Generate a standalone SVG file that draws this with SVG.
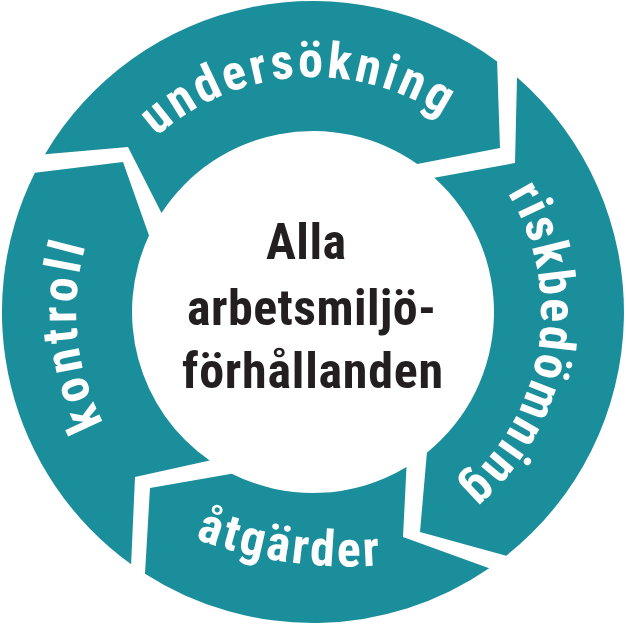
<svg xmlns="http://www.w3.org/2000/svg" xmlns:xlink="http://www.w3.org/1999/xlink" width="626" height="625" viewBox="0 0 626 625">
  <style>
    .seg { fill: #1a8e9b; }
    .lbl { fill: #ffffff; font-family: "Roboto Condensed", "Open Sans", "Liberation Sans", sans-serif; font-stretch: condensed; font-weight: bold; font-size: 50px; }
    .ctr { fill: #231f20; font-family: "Roboto Condensed", "Open Sans", "Liberation Sans", sans-serif; font-stretch: condensed; font-weight: bold; font-size: 50px; text-anchor: middle; }
  </style>
  <defs>
    <path id="p-unders" d="M79.2,288.3 A235,235 0 0 1 540.8,254.4"/>
    <path id="p-kontroll" d="M296.1,548.4 A237,237 0 0 1 248.1,84.1"/>
    <path id="p-risk" d="M388.4,96.8 A228,228 0 0 1 315.8,540.0"/>
    <path id="p-atg" d="M150,519.6 A450,450 0 0 0 450,555.2"/>
  </defs>
  <rect width="626" height="625" fill="#ffffff"/>

  <g id="node-kontroll">
    <path class="seg" d="M131.1,564.3 L135,477 L209.7,460.6 A181,181 0 0 1 149.0,235.5 L123,162 L34.9,172.7 A311,311 0 0 0 131.1,564.3 Z"/>
    <text class="lbl"><textPath xlink:href="#p-kontroll" href="#p-kontroll" startOffset="330.9" text-anchor="middle" textLength="182">kontroll</textPath></text>
  </g>

  <g id="node-undersokning">
    <path class="seg" d="M45.0,154.2 L128,147 L161.5,212.9 A181,181 0 0 1 417.3,164.1 L500,148 L497.1,61.4 A311,311 0 0 0 45.0,154.2 Z"/>
    <text class="lbl"><textPath xlink:href="#p-unders" href="#p-unders" startOffset="328.1" text-anchor="middle" textLength="308">undersökning</textPath></text>
  </g>

  <g id="node-riskbedomning">
    <path class="seg" d="M517.0,77.3 L515,163 L434.3,177.7 A181,181 0 0 1 426.9,452.7 L420,532 L506.2,555.7 A311,311 0 0 0 517.0,77.3 Z"/>
    <text class="lbl"><textPath xlink:href="#p-risk" href="#p-risk" startOffset="318.4" text-anchor="middle" textLength="324">riskbedömning</textPath></text>
  </g>

  <g id="node-atgarder">
    <path class="seg" d="M489.2,568.3 L403,537 L406.5,467.0 A181,181 0 0 1 231.7,473.7 L150,488 L145.0,573.7 A311,311 0 0 0 489.2,568.3 Z"/>
    <text class="lbl"><textPath xlink:href="#p-atg" href="#p-atg" startOffset="49" textLength="188">åtgärder</textPath></text>
  </g>

  <g id="node-center">
    <text class="ctr" x="306" y="259" textLength="80">Alla</text>
    <text class="ctr" x="311.5" y="325" textLength="249">arbetsmiljö-</text>
    <text class="ctr" x="312.5" y="388" textLength="261">förhållanden</text>
  </g>

  <g id="connectors"></g>
</svg>
